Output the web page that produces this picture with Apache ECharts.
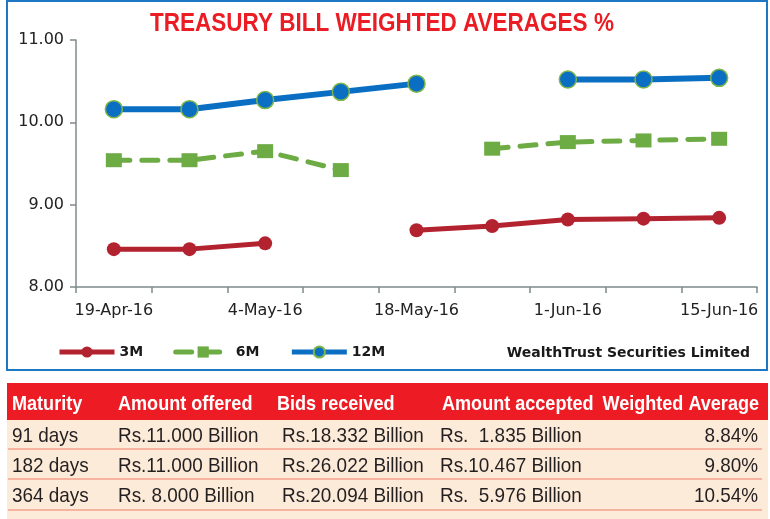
<!DOCTYPE html>
<html><head><meta charset="utf-8">
<style>html,body{margin:0;padding:0;background:#fff;}#c{width:770px;height:519px;}</style>
<script src="https://cdn.jsdelivr.net/npm/echarts@6/dist/echarts.min.js"></script>
</head><body><div id="c"></div>
<script>
const categories = ['19-Apr-16','27-Apr-16','4-May-16','11-May-16','18-May-16','25-May-16','1-Jun-16','8-Jun-16','15-Jun-16'];
const m3 = [8.46, 8.46, 8.53, null, 8.69, 8.74, 8.82, 8.83, 8.84];
const m6 = [9.54, 9.54, 9.65, 9.42, null, 9.68, 9.76, 9.78, 9.80];
const m12 = [10.16, 10.16, 10.27, 10.37, 10.47, null, 10.52, 10.52, 10.54];
const yTicks = [8, 9, 10, 11];

const tableHeader = ['Maturity','Amount offered','Bids received','Amount accepted','Weighted Average'];
const maturities = ['91 days','182 days','364 days'];
const amountOffered = ['Rs.11.000 Billion','Rs.11.000 Billion','Rs. 8.000 Billion'];
const bidsReceived = ['Rs.18.332 Billion','Rs.26.022 Billion','Rs.20.094 Billion'];
const amountAccepted = ['Rs.  1.835 Billion','Rs.10.467 Billion','Rs.  5.976 Billion'];
const weightedAvg = ['8.84%','9.80%','10.54%'];

const chart = echarts.init(document.getElementById('c'), null, {renderer:'canvas'});
const toData = a => a.map(v => v == null ? '-' : v);
const RED = '#B3222F', GREEN = '#6DAB45', BLUE = '#0A6FC2';
const axisFont = 'DejaVu Sans';

const graphics = [];
// chart frame
graphics.push({type:'rect', z:-10, shape:{x:7, y:1, width:760, height:369}, style:{fill:'#fff', stroke:'#1F78C3', lineWidth:2}});
// title
graphics.push({type:'text', x:382, y:24, scaleX:0.9, style:{text:'TREASURY BILL WEIGHTED AVERAGES %', fill:'#EC1C24', font:'bold 25px "Liberation Sans"', textAlign:'center', textVerticalAlign:'middle'}});
// source
graphics.push({type:'text', x:750, y:353, style:{text:'WealthTrust Securities Limited', fill:'#1a1a1a', font:'bold 14px "DejaVu Sans"', textAlign:'right', textVerticalAlign:'middle'}});
// table background
graphics.push({type:'rect', z:-10, shape:{x:7, y:383, width:761, height:37}, style:{fill:'#ED1C24'}});
graphics.push({type:'rect', z:-10, shape:{x:7, y:420, width:761, height:99}, style:{fill:'#FDEBD9'}});
[449, 479, 510].forEach(y => graphics.push({type:'line', z:-9, shape:{x1:8, y1:y, x2:762, y2:y}, style:{stroke:'#F3A08C', lineWidth:1.5}}));
const hx = [12, 118, 277, 442, 759];
tableHeader.forEach((t,i) => graphics.push({type:'text', x:hx[i], y:404, scaleX:0.86, style:{text:t, fill:'#fff', font:'bold 21px "Liberation Sans"', textAlign: i===4?'right':'left', textVerticalAlign:'middle'}}));
const rx = [12, 118, 282, 440, 758];
const rowsY = [436, 466, 496];
const cols = [maturities, amountOffered, bidsReceived, amountAccepted, weightedAvg];
cols.forEach((col, ci) => col.forEach((t, ri) => graphics.push({type:'text', x:rx[ci], y:rowsY[ri], scaleX:0.9, style:{text:t, fill:'#231F20', font:'21px "Liberation Sans"', textAlign: ci===4?'right':'left', textVerticalAlign:'middle'}})));

chart.setOption({
  animation:false,
  backgroundColor:'#fff',
  graphic: graphics,
  grid:{left:76, right:13, top:40, bottom:232, containLabel:false},
  legend:{
    left:52, top:340, itemWidth:55, itemHeight:14, itemGap:30,
    lineStyle:{width:5},
    textStyle:{fontFamily:axisFont, fontWeight:'bold', fontSize:14, color:'#1a1a1a'},
    data:['3M','6M','12M']
  },
  xAxis:{
    type:'category', data:categories, boundaryGap:true,
    axisLine:{lineStyle:{color:'#7F8A8C', width:1.5}},
    axisTick:{show:true, interval:0, length:6, lineStyle:{color:'#7F8A8C', width:1.5}},
    axisLabel:{interval:1, margin:16, color:'#222', fontFamily:axisFont, fontSize:16}
  },
  yAxis:{
    type:'value', min:8, max:11, interval:1,
    axisLine:{show:true, lineStyle:{color:'#7F8A8C', width:1.5}},
    axisTick:{show:true, length:6, lineStyle:{color:'#7F8A8C', width:1.5}},
    splitLine:{show:false},
    axisLabel:{margin:12, color:'#222', fontFamily:axisFont, fontSize:16, formatter: v => v.toFixed(2)}
  },
  series:[
    {name:'3M', type:'line', data:toData(m3), connectNulls:false, symbol:'circle', symbolSize:14,
     lineStyle:{color:RED, width:5}, itemStyle:{color:RED}},
    {name:'6M', type:'line', data:toData(m6), connectNulls:false, symbol:'rect', symbolSize:[16,14],
     lineStyle:{color:GREEN, width:5, type:[16,12], cap:'round'}, itemStyle:{color:GREEN}},
    {name:'12M', type:'line', data:toData(m12), connectNulls:false, symbol:'circle', symbolSize:17,
     lineStyle:{color:BLUE, width:6}, itemStyle:{color:BLUE, borderColor:'#7DB548', borderWidth:1.5}}
  ]
});
</script></body></html>
